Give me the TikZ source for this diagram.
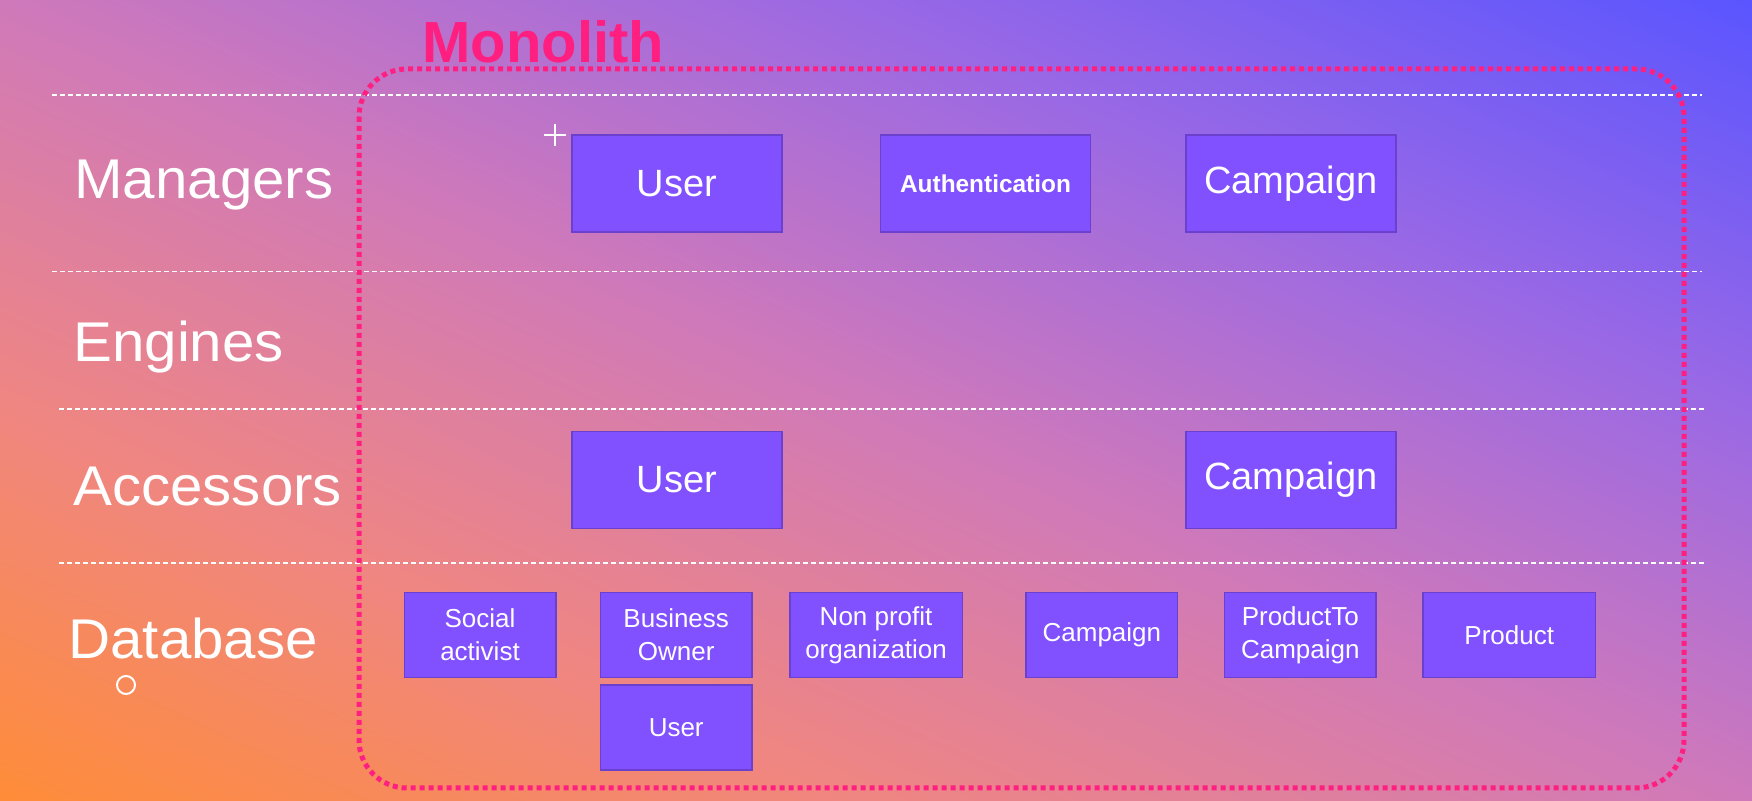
\documentclass[tikz,border=0pt]{standalone}
\usepackage{fontspec}
\setmainfont{Liberation Sans}
\newfontfamily\layerfont[FakeStretch=1.04]{Liberation Sans}
\usetikzlibrary{positioning}
\definecolor{boxfill}{HTML}{8150FF}
\definecolor{boxline}{HTML}{6A40CC}
\definecolor{monopink}{HTML}{FF1F80}
\definecolor{bgorange}{HTML}{FF8C38}
\definecolor{bgsalmon}{HTML}{EF8682}
\definecolor{bgpink}{HTML}{CF79BA}
\definecolor{bgviolet}{HTML}{9868E6}
\definecolor{bgblue}{HTML}{5A55FF}
\pgfdeclarehorizontalshading{bgshade}{100bp}{color(0bp)=(bgorange); color(25bp)=(bgorange); color(37.5bp)=(bgsalmon); color(50bp)=(bgpink); color(62.5bp)=(bgviolet); color(75bp)=(bgblue); color(100bp)=(bgblue)}
\tikzset{
    layer/.style={anchor=base west, inner sep=0pt, text=white, font=\layerfont\fontsize{28}{32}\selectfont},
    mgrbox/.style={rectangle, draw=boxline, line width=0.75pt, fill=boxfill, text=white, minimum width=105pt, minimum height=48.5pt, inner sep=0pt, font=\fontsize{19}{23}\selectfont},
    dbbox/.style={rectangle, draw=boxline, line width=0.75pt, fill=boxfill, text=white, minimum width=75.75pt, minimum height=42.5pt, inner sep=0pt, align=center, font=\fontsize{13}{16.3}\selectfont},
    dbwide/.style={dbbox, minimum width=86.35pt},
    divider/.style={white, line width=0.75pt, dash pattern=on 2.5pt off 1.5pt},
    monolith/.style={monopink, line width=2.5pt, dash pattern=on 2.5pt off 2pt, rounded corners=24pt}
}

\begin{document}
\begin{tikzpicture}[x=0.5pt, y=-0.5pt]
    \useasboundingbox (0,0) rectangle (1752,801);
    \begin{scope}
        \clip (0,0) rectangle (1752,801);
        \shade[shading=bgshade, transform canvas={shift={(876,400.5)}, rotate=65.4}] (-729,-963) rectangle (729,963);
    \end{scope}

    % layer separators
    \draw[divider] (52,95) -- (1702,95);
    \draw[divider] (52,271.5) -- (1702,271.5);
    \draw[divider] (59,409) -- (1707,409);
    \draw[divider] (59,563) -- (1707,563);

    % layer names
    \node[layer] (managers) at (74,199) {Managers};
    \node[layer] (engines) at (73,362) {Engines};
    \node[layer] (accessors) at (73,506) {Accessors};
    \node[layer] (database) at (68,659) {Database};

    % the monolith frame
    \draw[monolith] (359,69) rectangle (1684,788);
    \node[anchor=base west, inner sep=0pt, text=monopink, font=\bfseries\fontsize{29}{33}\selectfont] (title) at (422,63) {Monolith};

    % managers
    \node[mgrbox] (muser) at (677,183.5) {User};
    \node[mgrbox, right=48.5pt of muser, font=\bfseries\fontsize{12.2}{15}\selectfont] (mauth) {Authentication};
    \node[mgrbox, right=47pt of mauth] (mcampaign) {Campaign};

    % accessors
    \node[mgrbox, below=99pt of muser] (auser) {User};
    \node[mgrbox, below=99pt of mcampaign] (acampaign) {Campaign};

    % database tables
    \node[dbbox] (social) at (480,635) {Social\\activist};
    \node[dbbox, right=21.6pt of social] (business) {Business\\Owner};
    \node[dbwide, right=18.15pt of business] (nonprofit) {Non profit\\organization};
    \node[dbbox, right=31.1pt of nonprofit] (dbcampaign) {Campaign};
    \node[dbbox, right=22.7pt of dbcampaign] (prodcampaign) {ProductTo\\Campaign};
    \node[dbwide, right=22.65pt of prodcampaign] (product) {Product};
    \node[dbbox, below=3pt of business] (dbuser) {User};

    % stray marks
    \draw[white, line width=1.25pt] (544,135) -- (566,135) (555,124) -- (555,146);
    \draw[white, line width=1pt] (126,685) circle (4.5pt);
\end{tikzpicture}
\end{document}
